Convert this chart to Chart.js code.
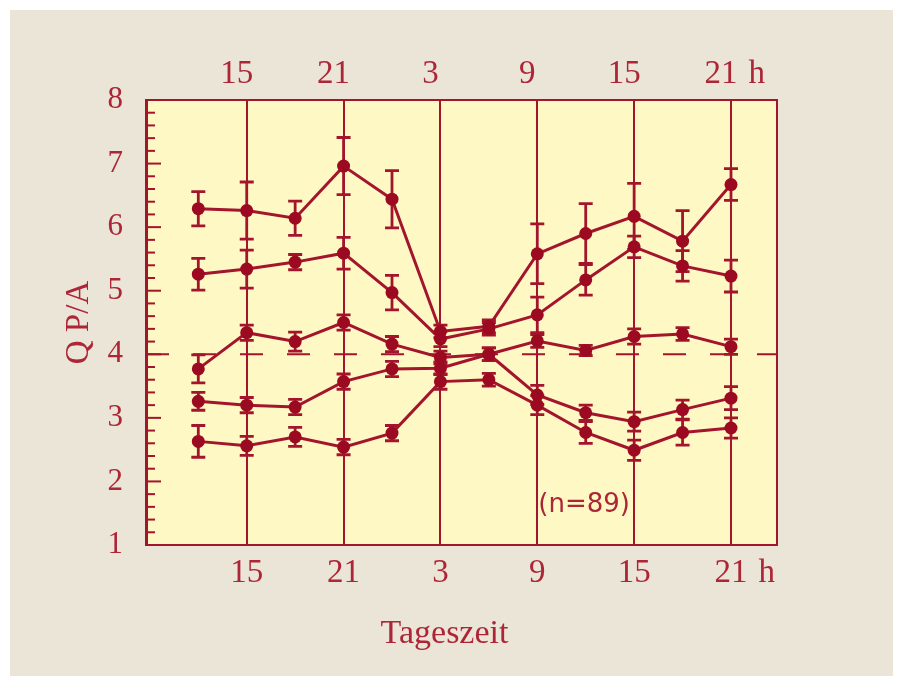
<!DOCTYPE html>
<html>
<head>
<meta charset="utf-8">
<script src="https://cdn.jsdelivr.net/npm/chart.js@4.4.1/dist/chart.umd.min.js"></script>
<style>
  html, body { margin: 0; padding: 0; background: #fff; }
  #wrap { position: absolute; left: 10px; top: 10px; width: 883px; height: 666px; background: #ebe5d7; }
</style>
</head>
<body>
<div id="wrap"><canvas id="chart" width="883" height="666"></canvas></div>
<script>
// Uhrzeit (fortlaufend, h) der Messpunkte
const hours = [12, 15, 18, 21, 24, 27, 30, 33, 36, 39, 42, 45];
const tickHours = [15, 21, 27, 33, 39, 45];
const tickLabels = ['15', '21', '3', '9', '15', '21'];
const yTicks = [1, 2, 3, 4, 5, 6, 7, 8];

// QP/A Mittelwerte und Fehler
const seriesA = [6.29, 6.26, 6.14, 6.96, 6.44, 4.36, 4.44, 5.58, 5.90, 6.17, 5.78, 6.67];
const errA    = [0.27, 0.45, 0.27, 0.45, 0.45, 0.10, 0.10, 0.47, 0.47, 0.52, 0.48, 0.25];
const seriesB = [5.26, 5.34, 5.45, 5.59, 4.97, 4.24, 4.40, 4.62, 5.17, 5.69, 5.39, 5.23];
const errB    = [0.25, 0.30, 0.12, 0.25, 0.27, 0.12, 0.10, 0.28, 0.24, 0.17, 0.24, 0.25];
const seriesC = [3.77, 4.34, 4.20, 4.50, 4.16, 3.95, 4.00, 4.21, 4.06, 4.28, 4.32, 4.12];
const errC    = [0.22, 0.12, 0.15, 0.12, 0.12, 0.10, 0.10, 0.10, 0.08, 0.12, 0.10, 0.12];
const seriesD = [3.26, 3.20, 3.17, 3.57, 3.77, 3.78, 4.00, 3.36, 3.08, 2.94, 3.13, 3.31];
const errD    = [0.14, 0.12, 0.12, 0.12, 0.12, 0.10, 0.10, 0.15, 0.12, 0.15, 0.15, 0.18];
const seriesE = [2.63, 2.56, 2.70, 2.54, 2.76, 3.57, 3.60, 3.20, 2.77, 2.49, 2.77, 2.84];
const errE    = [0.25, 0.15, 0.15, 0.12, 0.12, 0.12, 0.10, 0.15, 0.17, 0.16, 0.20, 0.16];

const allSeries = [seriesA, seriesB, seriesC, seriesD, seriesE];
const allErrors = [errA, errB, errC, errD, errE];

const red = '#a3152c';
const textRed = '#ad2638';
const plotBg = '#fef8c4';
const serif = "'Liberation Serif', 'DejaVu Serif', serif";

const extras = {
    id: 'extras',
    beforeDraw(chart) {
        const { ctx, chartArea: a } = chart;
        ctx.save();
        ctx.fillStyle = plotBg;
        ctx.fillRect(a.left, a.top, a.width, a.height);
        ctx.restore();
    },
    beforeDatasetsDraw(chart) {
        const { ctx, chartArea: a, scales } = chart;
        const x = scales.x, y = scales.y;
        ctx.save();
        ctx.strokeStyle = red;
        ctx.lineWidth = 2;

        // gestrichelte Linie bei 4
        ctx.setLineDash([23, 24]);
        ctx.beginPath();
        ctx.moveTo(a.left, y.getPixelForValue(4));
        ctx.lineTo(a.right, y.getPixelForValue(4));
        ctx.stroke();
        ctx.setLineDash([]);

        // innere Teilstriche links
        for (let k = 0; k <= 35; k++) {
            const py = y.getPixelForValue(1 + k / 5);
            const len = k % 5 === 0 ? 15 : 9;
            ctx.beginPath();
            ctx.moveTo(a.left, py);
            ctx.lineTo(a.left + len, py);
            ctx.stroke();
        }

        // rechter Rahmen
        ctx.beginPath();
        ctx.moveTo(a.right, a.top);
        ctx.lineTo(a.right, a.bottom);
        ctx.stroke();

        // Fehlerbalken
        ctx.lineWidth = 2.8;
        allSeries.forEach((vals, i) => {
            vals.forEach((v, j) => {
                const px = x.getPixelForValue(hours[j]);
                const y1 = y.getPixelForValue(v + allErrors[i][j]);
                const y2 = y.getPixelForValue(v - allErrors[i][j]);
                ctx.beginPath();
                ctx.moveTo(px, y1); ctx.lineTo(px, y2);
                ctx.moveTo(px - 7, y1); ctx.lineTo(px + 7, y1);
                ctx.moveTo(px - 7, y2); ctx.lineTo(px + 7, y2);
                ctx.stroke();
            });
        });
        ctx.restore();
    },
    afterDraw(chart) {
        const { ctx, chartArea: a, scales } = chart;
        ctx.save();
        ctx.fillStyle = textRed;
        ctx.font = '33px ' + serif;
        ctx.textBaseline = 'middle';
        ctx.textAlign = 'left';
        const w = ctx.measureText('21').width;
        ctx.fillText('h', scales.x.getPixelForValue(45) + w / 2 + 11, a.bottom + 9 + 19.8);
        ctx.fillText('h', scales.x2.getPixelForValue(45) + w / 2 + 11, a.top - 6 - 19.8);

        ctx.font = '34px ' + serif;
        ctx.textAlign = 'center';
        ctx.textBaseline = 'alphabetic';
        ctx.fillText('Tageszeit', (a.left + a.right) / 2 - 17, a.bottom + 98);

        ctx.font = "26px 'DejaVu Sans', sans-serif";
        ctx.textBaseline = 'middle';
        ctx.fillText('(n=89)', scales.x.getPixelForValue(35.9), scales.y.getPixelForValue(1.62));
        ctx.restore();
    }
};

const datasets = allSeries.map(vals => ({
    data: vals.map((v, j) => ({ x: hours[j], y: v })),
    borderColor: red,
    backgroundColor: red,
    borderWidth: 3,
    pointRadius: 6.5,
    pointBorderWidth: 0,
    pointBackgroundColor: '#9c0a22',
    tension: 0
}));

new Chart(document.getElementById('chart'), {
    type: 'line',
    data: { datasets },
    plugins: [extras],
    options: {
        responsive: false,
        animation: false,
        devicePixelRatio: 1,
        layout: { padding: { left: 0, right: 116, top: 0, bottom: 0 } },
        plugins: { legend: { display: false }, tooltip: { enabled: false } },
        scales: {
            x: {
                type: 'linear',
                position: 'bottom',
                min: 8.76,
                max: 47.85,
                afterBuildTicks: s => { s.ticks = tickHours.map(v => ({ value: v })); },
                afterFit: s => { s.height = 131; },
                grid: { color: red, lineWidth: 2, drawTicks: false },
                border: { display: true, color: red, width: 2 },
                ticks: {
                    padding: 9,
                    color: textRed,
                    font: { family: serif, size: 33 },
                    callback: (v, i) => tickLabels[i]
                }
            },
            x2: {
                type: 'linear',
                position: 'top',
                min: 9.38,
                max: 48.47,
                afterBuildTicks: s => { s.ticks = tickHours.map(v => ({ value: v })); },
                afterFit: s => { s.height = 90; },
                grid: { display: false, drawTicks: false },
                border: { display: true, color: red, width: 2 },
                ticks: {
                    padding: 6,
                    color: textRed,
                    font: { family: serif, size: 33 },
                    callback: (v, i) => tickLabels[i]
                }
            },
            y: {
                min: 1,
                max: 8,
                afterBuildTicks: s => { s.ticks = yTicks.map(v => ({ value: v })); },
                afterFit: s => { s.width = 136; },
                grid: { display: false, drawTicks: false },
                border: { display: true, color: red, width: 3 },
                ticks: {
                    padding: 23,
                    color: textRed,
                    font: { family: serif, size: 31 }
                },
                title: {
                    display: true,
                    text: 'Q P/A',
                    color: textRed,
                    font: { family: serif, size: 33 },
                    padding: { top: 50, bottom: 0 }
                }
            }
        }
    }
});
</script>
</body>
</html>
